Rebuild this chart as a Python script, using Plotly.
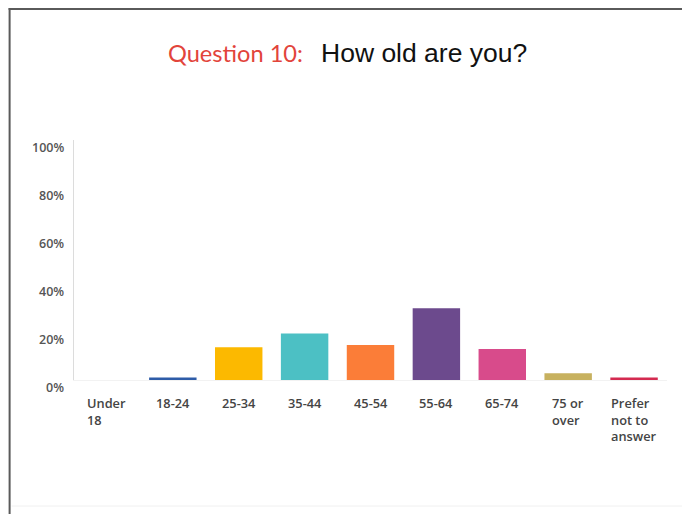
import plotly.graph_objects as go

# dados
categorias = ["Under 18", "18-24", "25-34", "35-44", "45-54", "55-64", "65-74", "75 or over", "Prefer not to answer"]
rotulos = ["Under<br>18", "18-24", "25-34", "35-44", "45-54", "55-64", "65-74", "75 or<br>over", "Prefer<br>not to<br>answer"]
percentuais = [0, 1.0, 13.6, 19.4, 14.6, 29.9, 12.9, 2.8, 1.0]
cores = ["#1fa56b", "#2e5ca8", "#fcb900", "#4cc0c4", "#fb7d38", "#6c4a8d", "#d84b8b", "#c7b15f", "#d42a50"]
ticks_y = [0, 20, 40, 60, 80, 100]

# a página tem margem de 8px, então a figura ocupa 682x506
W, H = 682, 506
L, R, T, B = 65.5, 22.5, 132, 134
pw, ph = W - L - R, H - T - B


def px_x(x):
    return (x - L) / pw


def px_y(y):
    return (H - B - y) / ph


fig = go.Figure()
fig.add_trace(go.Bar(
    x=categorias, y=percentuais,
    marker=dict(color=cores, line=dict(width=0)),
    hoverinfo="skip",
))

fonte = dict(family="Open Sans, sans-serif", size=12.8, color="#444", weight=600)

# rótulos do eixo x (alinhados à esquerda)
for cat, txt in zip(categorias, rotulos):
    fig.add_annotation(
        x=cat, y=0, xref="x", yref="y", text=txt, showarrow=False,
        xanchor="center", yanchor="top", align="left", yshift=-12,
        font=fonte,
    )

# rótulos do eixo y
for v in ticks_y:
    fig.add_annotation(
        x=0, y=v, xref="paper", yref="y", text=f"{v}%", showarrow=False,
        xanchor="right", yanchor="middle", xshift=-8, yshift=-7,
        font=dict(family="Open Sans, sans-serif", size=12.5, color="#555", weight=600),
    )

# título
fig.add_annotation(
    x=px_x(297), y=px_y(45), xref="paper", yref="paper", text="Question 10:",
    showarrow=False, xanchor="right", yanchor="middle",
    font=dict(family="Lato, sans-serif", size=23.6, color="#e2443b"),
)
fig.add_annotation(
    x=px_x(311), y=px_y(45), xref="paper", yref="paper", text="How old are you?",
    showarrow=False, xanchor="left", yanchor="middle",
    font=dict(family="Liberation Sans, Arial, sans-serif", size=26.5, color="#111"),
)

# moldura
borda = dict(color="#5a5a5a", width=2)
fig.add_shape(type="line", xref="paper", yref="paper",
              x0=px_x(1), x1=px_x(1), y0=px_y(0), y1=px_y(506), line=borda)
fig.add_shape(type="line", xref="paper", yref="paper",
              x0=px_x(0), x1=px_x(681), y0=px_y(1), y1=px_y(1), line=borda)
fig.add_shape(type="line", xref="paper", yref="paper",
              x0=px_x(680.5), x1=px_x(680.5), y0=px_y(0), y1=px_y(506), line=borda)
fig.add_shape(type="line", xref="paper", yref="paper",
              x0=px_x(3), x1=px_x(678), y0=px_y(498), y1=px_y(498),
              line=dict(color="#f0f0f0", width=1))

fig.update_layout(
    width=W, height=H,
    margin=dict(l=L, r=R, t=T, b=B),
    paper_bgcolor="white", plot_bgcolor="white",
    bargap=0.28, showlegend=False,
)
fig.update_xaxes(showticklabels=False, showgrid=False, zeroline=False,
                 showline=True, linecolor="#f2f2f2", linewidth=1)
fig.update_yaxes(range=[0, 100], showticklabels=False, showgrid=False, zeroline=False,
                 showline=True, linecolor="#dcdcdc", linewidth=1)

fig.write_html("out.html")
